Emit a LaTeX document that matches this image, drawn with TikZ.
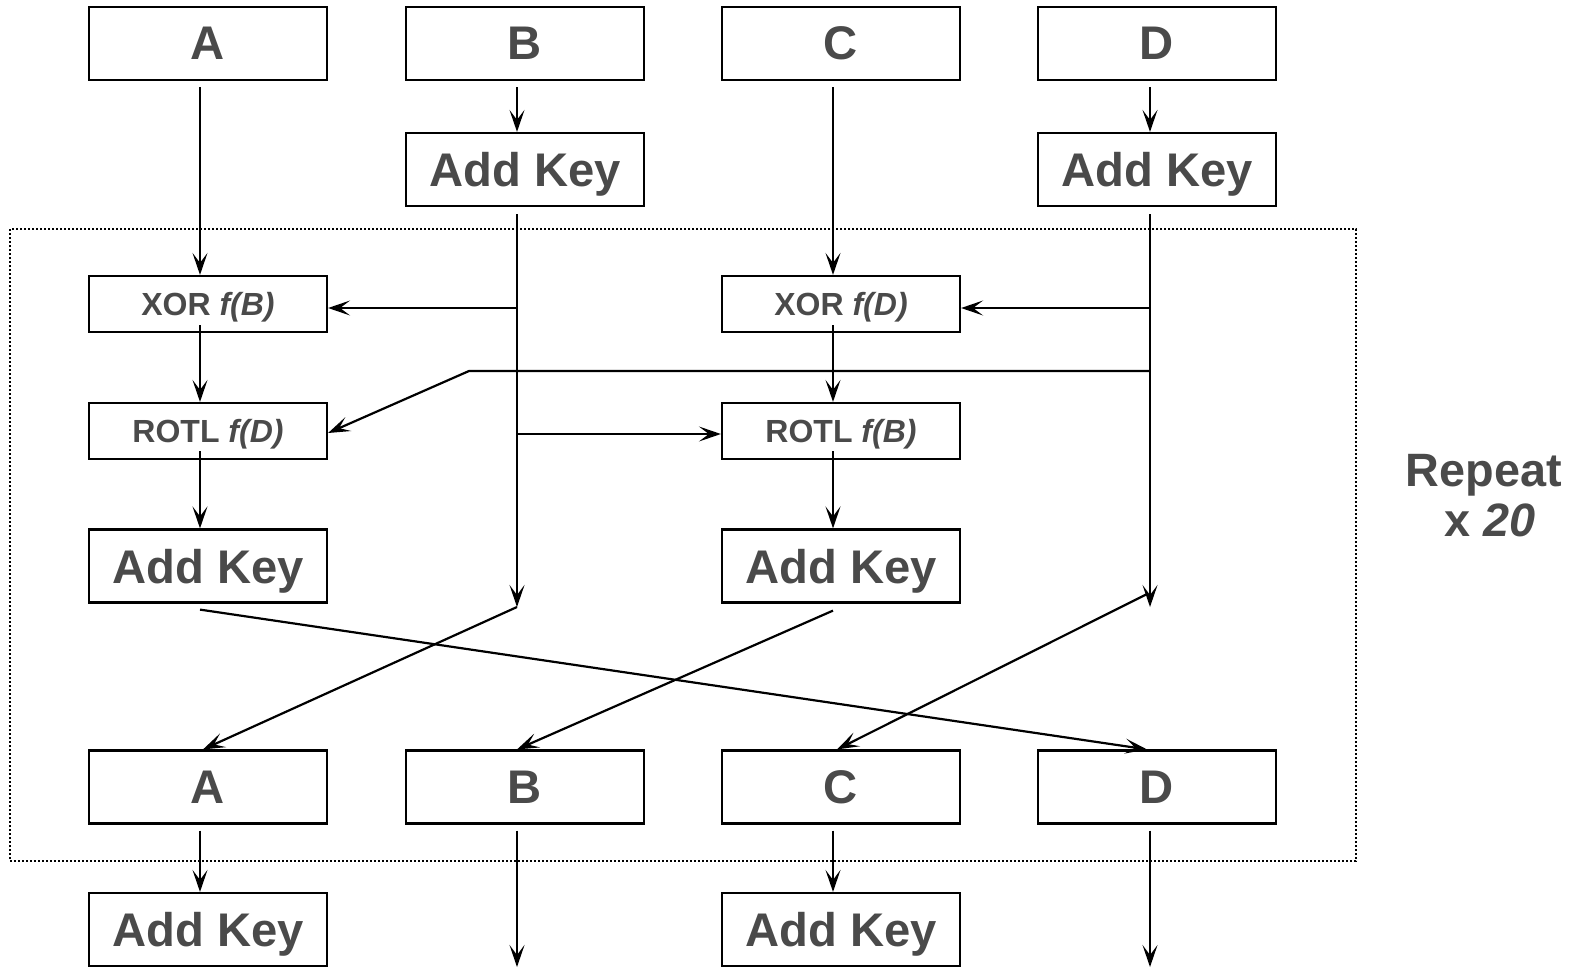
\documentclass[tikz,border=0pt]{standalone}
\usepackage{fontspec}
\setmainfont{Liberation Sans}
\usepackage{tikz}
\usetikzlibrary{arrows.meta, calc}
\usepackage{xcolor}
\definecolor{txtgray}{HTML}{4A4A4A}
\tikzstyle{bigbox} = [rectangle, minimum width=119pt, minimum height=36.5pt, inner sep=0pt,
    text centered, text depth=0pt, draw=black, line width=1.1pt, text=txtgray,
    font=\fontsize{23.6}{25}\selectfont\bfseries]
\tikzstyle{smallbox} = [rectangle, minimum width=119pt, minimum height=28pt, inner sep=0pt,
    text centered, text depth=0pt, draw=black, line width=1.1pt, text=txtgray,
    font=\fontsize{16}{18}\selectfont\bfseries]
\tikzstyle{arrow} = [line width=1.1pt, -{Stealth[length=11pt, width=7.5pt, inset=5pt]}]
\tikzstyle{loopframe} = [line width=1pt, dash pattern=on 1pt off 1pt]
\tikzstyle{lbl} = [inner sep=0pt, text=txtgray, font=\fontsize{23.4}{25}\selectfont\bfseries]

\begin{document}
\begin{tikzpicture}[x=0.5pt, y=-0.5pt]
\useasboundingbox (0,0) rectangle (1577,969);
% --- bucle de 20 rondas ---
\draw[loopframe] (10,229) rectangle (1356,861);
\node (rep1) [lbl, anchor=base] at (1484,486) {Repeat};
\node (rep2) [lbl, anchor=base] at (1490,536) {x \textit{20}};

% --- entrada ---
\node (a0) [bigbox] at (208,43.5) {A};
\node (b0) [bigbox] at (525,43.5) {B};
\node (c0) [bigbox] at (841,43.5) {C};
\node (d0) [bigbox] at (1157,43.5) {D};
\node (bkey) [bigbox] at (525,169.5) {Add Key};
\node (dkey) [bigbox] at (1157,169.5) {Add Key};

% --- ronda ---
\node (xorb) [smallbox] at (208,304) {XOR \textit{f(B)}};
\node (xord) [smallbox] at (841,304) {XOR \textit{f(D)}};
\node (rotld) [smallbox] at (208,431) {ROTL \textit{f(D)}};
\node (rotlb) [smallbox] at (841,431) {ROTL \textit{f(B)}};
\node (akey) [bigbox] at (208,566) {Add Key};
\node (ckey) [bigbox] at (841,566) {Add Key};

% --- salida de la ronda ---
\node (a1) [bigbox] at (208,787) {A};
\node (b1) [bigbox] at (525,787) {B};
\node (c1) [bigbox] at (841,787) {C};
\node (d1) [bigbox] at (1157,787) {D};
\node (akey2) [bigbox] at (208,929.5) {Add Key};
\node (ckey2) [bigbox] at (841,929.5) {Add Key};

% --- puntos de giro ---
\coordinate (bsplit1) at (517,308);
\coordinate (bsplit2) at (517,434);
\coordinate (bend) at (517,607);
\coordinate (dsplit1) at (1150,308);
\coordinate (dsplit2) at (1150,371);
\coordinate (dknee) at (469,371);
\coordinate (dend) at (1150,607);
\coordinate (dturn) at (1147,594);
\coordinate (bout) at (517,967);
\coordinate (dout) at (1150,967);

% --- flechas de entrada ---
\draw[arrow] ([xshift=-4pt,yshift=-3pt]a0.south) -- ([xshift=-4pt]xorb.north);
\draw[arrow] ([xshift=-4pt,yshift=-3pt]b0.south) -- ([xshift=-4pt]bkey.north);
\draw[arrow] ([xshift=-4pt,yshift=-3pt]c0.south) -- ([xshift=-4pt]xord.north);
\draw[arrow] ([xshift=-3.5pt,yshift=-3pt]d0.south) -- ([xshift=-3.5pt]dkey.north);

% --- ramal B ---
\draw[arrow] ([xshift=-4pt,yshift=-3.5pt]bkey.south) -- (bend);
\draw[arrow] (bsplit1) -- ([yshift=-2pt]xorb.east);
\draw[arrow] (bsplit2) -- ([yshift=-1.5pt]rotlb.west);

% --- ramal D ---
\draw[arrow] ([xshift=-3.5pt,yshift=-3.5pt]dkey.south) -- (dend);
\draw[arrow] (dsplit1) -- ([yshift=-2pt]xord.east);
\draw[arrow] (dsplit2) -- (dknee) -- ([yshift=-1pt]rotld.east);

% --- columnas A y C ---
\draw[arrow] ([xshift=-4pt,yshift=4pt]xorb.south) -- ([xshift=-4pt]rotld.north);
\draw[arrow] ([xshift=-4pt,yshift=4pt]xord.south) -- ([xshift=-4pt]rotlb.north);
\draw[arrow] ([xshift=-4pt,yshift=4.5pt]rotld.south) -- ([xshift=-4pt]akey.north);
\draw[arrow] ([xshift=-4pt,yshift=4.5pt]rotlb.south) -- ([xshift=-4pt]ckey.north);

% --- permutacion ---
\draw[arrow] (bend) -- ([xshift=-2.5pt]a1.north);
\draw[arrow] (dturn) -- ([xshift=-2pt]c1.north);
\draw[arrow] ([xshift=-4pt,yshift=-3pt]akey.south) -- ([xshift=-5pt]d1.north);
\draw[arrow] ([xshift=-4pt,yshift=-3.5pt]ckey.south) -- ([xshift=-4pt]b1.north);

% --- salida ---
\draw[arrow] ([xshift=-4pt,yshift=-3pt]a1.south) -- ([xshift=-4pt]akey2.north);
\draw[arrow] ([xshift=-4pt,yshift=-3pt]b1.south) -- (bout);
\draw[arrow] ([xshift=-4pt,yshift=-3pt]c1.south) -- ([xshift=-4pt]ckey2.north);
\draw[arrow] ([xshift=-3.5pt,yshift=-3pt]d1.south) -- (dout);
\end{tikzpicture}
\end{document}
